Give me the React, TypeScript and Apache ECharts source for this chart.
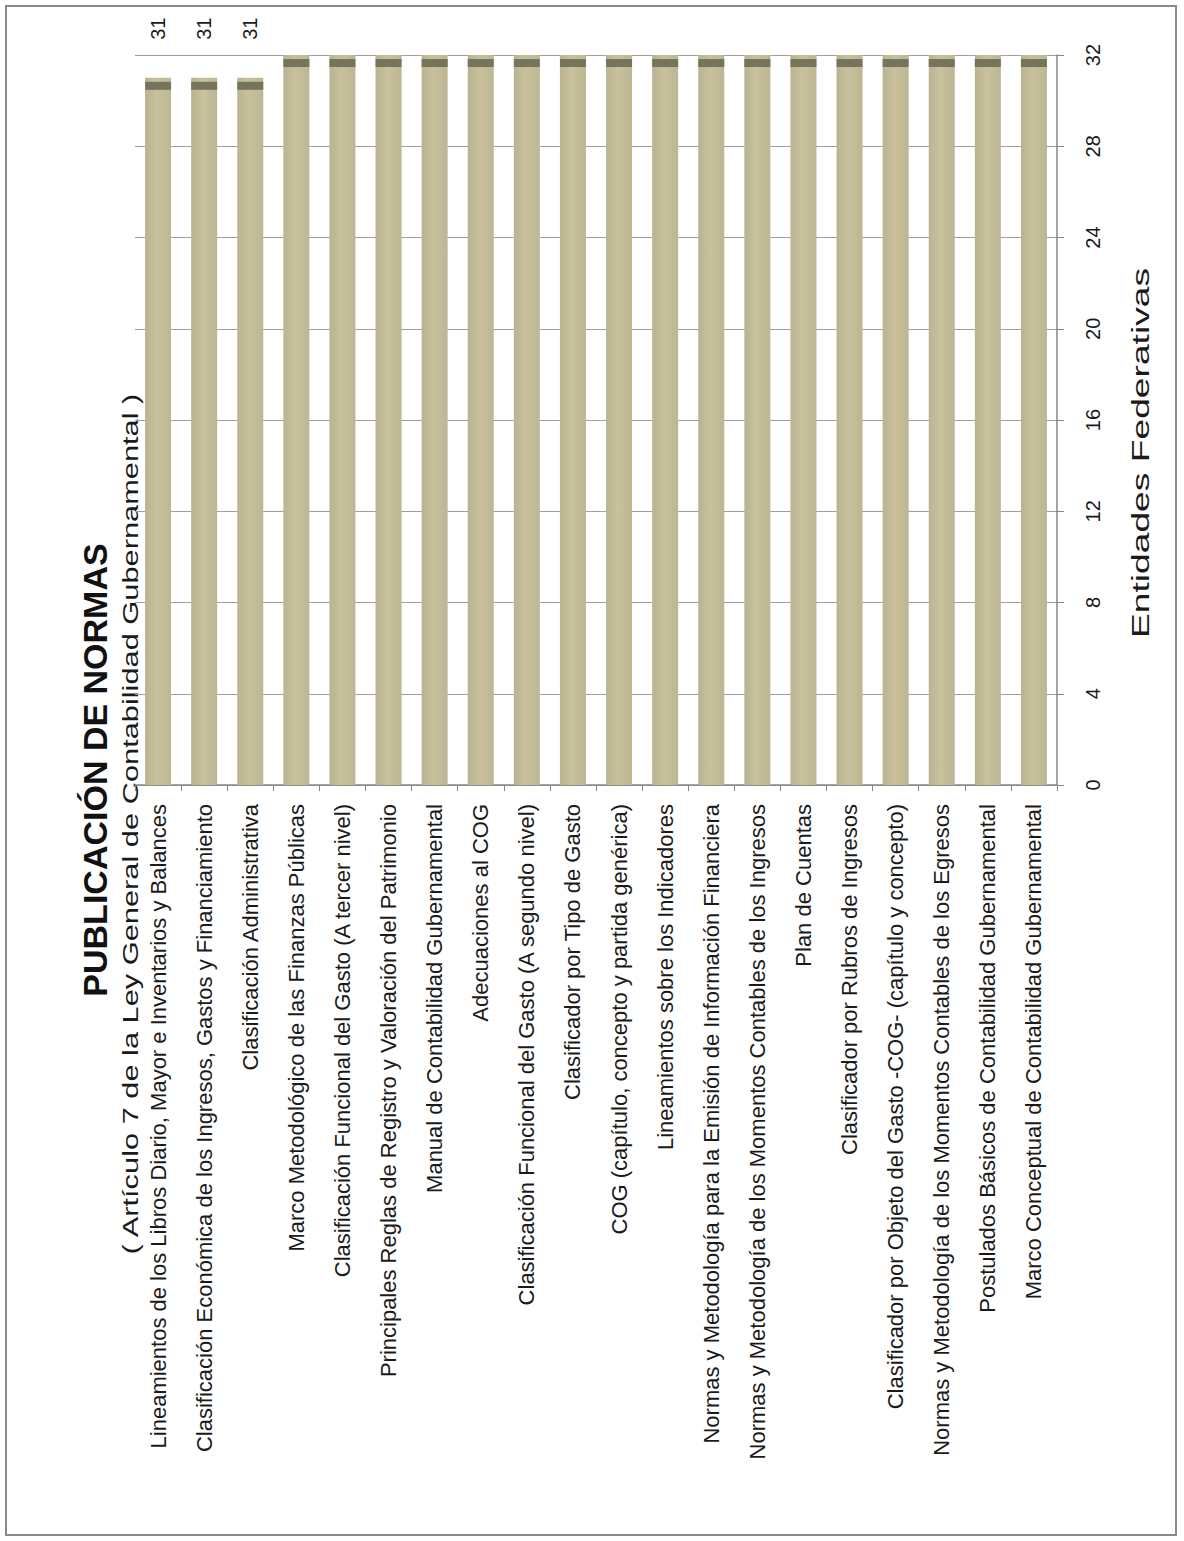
import React, { useEffect, useRef } from "react";
import * as echarts from "echarts";

const categories: string[] = [
  "Lineamientos de los Libros Diario, Mayor e Inventarios y Balances",
  "Clasificación Económica de los Ingresos, Gastos y Financiamiento",
  "Clasificación Administrativa",
  "Marco Metodológico de las Finanzas Públicas",
  "Clasificación Funcional del Gasto (A tercer nivel)",
  "Principales Reglas de Registro y Valoración del Patrimonio",
  "Manual de Contabilidad Gubernamental",
  "Adecuaciones al COG",
  "Clasificación Funcional del Gasto (A segundo nivel)",
  "Clasificador por Tipo de Gasto",
  "COG (capítulo, concepto y partida genérica)",
  "Lineamientos sobre los Indicadores",
  "Normas y Metodología para la Emisión de Información Financiera",
  "Normas y Metodología de los Momentos Contables de los Ingresos",
  "Plan de Cuentas",
  "Clasificador por Rubros de Ingresos",
  "Clasificador por Objeto del Gasto -COG- (capítulo y concepto)",
  "Normas y Metodología de los Momentos Contables de los Egresos",
  "Postulados Básicos de Contabilidad Gubernamental",
  "Marco Conceptual de Contabilidad Gubernamental",
];

const values: number[] = [31, 31, 31, 32, 32, 32, 32, 32, 32, 32, 32, 32, 32, 32, 32, 32, 32, 32, 32, 32];

const axisMin = 0;
const axisMax = 32;
const axisStep = 4;

const titleText = "PUBLICACIÓN DE NORMAS";
const subtitleText = "( Artículo 7 de la Ley General de Contabilidad Gubernamental )";
const valueAxisName = "Entidades Federativas";

const FONT = "'Liberation Sans', Arial, sans-serif";

export default function App() {
  const ref = useRef<HTMLDivElement>(null);

  useEffect(() => {
    if (!ref.current) return;
    const chart = echarts.init(ref.current, null, { renderer: "svg" });
    const fullValue = Math.max(...values);
    const barColor = new echarts.graphic.LinearGradient(0, 0, 1, 0, [
      { offset: 0, color: "#b9b393" },
      { offset: 0.45, color: "#c8c19b" },
      { offset: 1, color: "#bdb694" },
    ]);

    chart.setOption({
      animation: false,
      backgroundColor: "#ffffff",
      textStyle: { fontFamily: FONT },
      grid: { left: 135, right: 127, top: 55, bottom: 756, containLabel: false },
      xAxis: {
        type: "category",
        data: categories,
        position: "bottom",
        axisLine: { show: true, lineStyle: { color: "#868686", width: 1.5 } },
        axisTick: { show: true, length: 6, lineStyle: { color: "#868686" } },
        axisLabel: {
          interval: 0,
          rotate: 90,
          margin: 19,
          fontSize: 22,
          color: "#1a1a1a",
          fontFamily: FONT,
        },
        splitLine: { show: false },
      },
      yAxis: {
        type: "value",
        position: "right",
        min: axisMin,
        max: axisMax,
        interval: axisStep,
        axisLine: { show: true, lineStyle: { color: "#868686", width: 1.5 } },
        axisTick: { show: true, length: 7, lineStyle: { color: "#868686" } },
        axisLabel: { rotate: 90, margin: 26, fontSize: 20, color: "#1a1a1a", fontFamily: FONT },
        splitLine: { show: true, lineStyle: { color: "#a0a0a0", width: 1 } },
      },
      series: [
        {
          type: "bar",
          data: values.map((v) => ({ value: v, label: { show: v < fullValue } })),
          barWidth: 26,
          barGap: "-100%",
          itemStyle: { color: barColor },
          label: {
            position: "top",
            distance: 38,
            rotate: 90,
            align: "left",
            verticalAlign: "middle",
            fontSize: 20,
            color: "#1a1a1a",
            fontFamily: FONT,
          },
          z: 2,
        },
        {
          type: "pictorialBar",
          data: values,
          symbol: "rect",
          symbolSize: [26, 8],
          symbolPosition: "end",
          symbolOffset: [0, "50%"],
          barWidth: 26,
          barGap: "-100%",
          itemStyle: { color: "#75755e" },
          z: 3,
          silent: true,
        },
      ],
      graphic: [
        {
          type: "rect",
          shape: { x: 6, y: 6, width: 1170, height: 1529 },
          style: { fill: "none", stroke: "#8a8a8a", lineWidth: 2 },
          silent: true,
        },
        {
          type: "text",
          x: 95,
          y: 770,
          rotation: Math.PI / 2,
          style: {
            text: titleText,
            fontSize: 34,
            fontWeight: "bold",
            fontFamily: FONT,
            fill: "#111111",
            align: "center",
            verticalAlign: "middle",
          },
        },
        {
          type: "text",
          x: 131,
          y: 824,
          rotation: Math.PI / 2,
          scaleX: 1.4,
          style: {
            text: subtitleText,
            fontSize: 22,
            fontFamily: FONT,
            fill: "#1a1a1a",
            align: "center",
            verticalAlign: "middle",
          },
        },
        {
          type: "text",
          x: 1141,
          y: 453,
          rotation: Math.PI / 2,
          scaleX: 1.55,
          style: {
            text: valueAxisName,
            fontSize: 24,
            fontFamily: FONT,
            fill: "#1a1a1a",
            align: "center",
            verticalAlign: "middle",
          },
        },
      ],
    });

    return () => chart.dispose();
  }, []);

  return (
    <div
      ref={ref}
      style={{ position: "absolute", left: 0, top: 0, width: 1184, height: 1541 }}
    />
  );
}
